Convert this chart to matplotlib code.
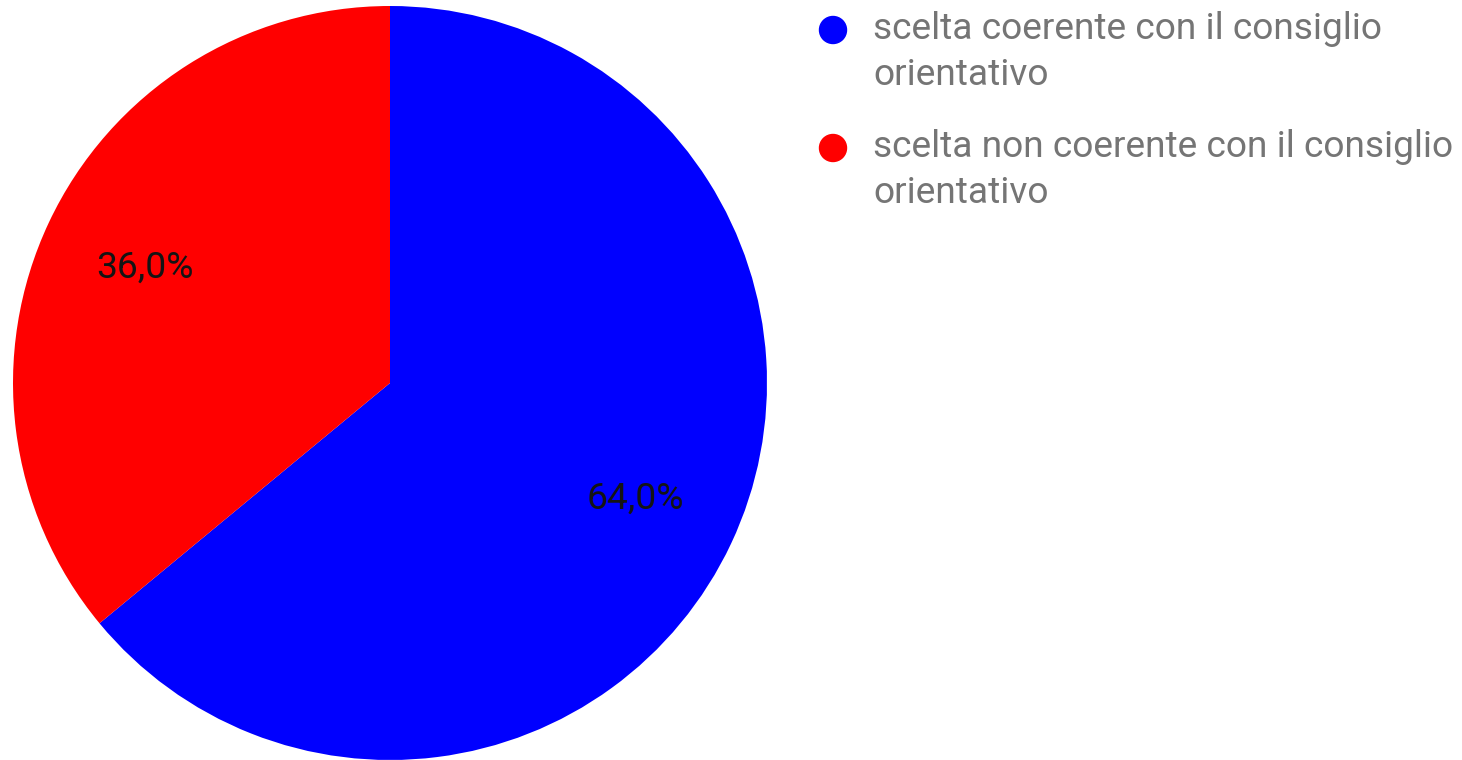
import matplotlib
matplotlib.use('Agg')
import matplotlib.pyplot as plt
from matplotlib.patches import Ellipse
import numpy as np

# data
labels = [['scelta coerente con il consiglio', 'orientativo'],
          ['scelta non coerente con il consiglio', 'orientativo']]
values = [64.0, 36.0]
colors = ['#0000ff', '#ff0000']
pct_text = ['64,0%', '36,0%']

plt.rcParams['font.family'] = ['Roboto', 'DejaVu Sans']

W, H = 1462, 760
fig = plt.figure(figsize=(W / 100, H / 100), dpi=100)

# pie centre ~ (390, 383) px, radius ~377 px
cx, cy, r = 390, 383, 377
ax = fig.add_axes([(cx - r) / W, (H - cy - r) / H, 2 * r / W, 2 * r / H])
ax.pie(values, colors=colors, startangle=90, counterclock=False,
       radius=1.0, wedgeprops=dict(linewidth=0))
ax.set_xlim(-1, 1)
ax.set_ylim(-1, 1)
ax.set_aspect('equal')
ax.axis('off')

# percentage labels along each wedge's mid angle
start = 90.0
for v, txt in zip(values, pct_text):
    mid = start - v * 3.6 / 2
    start -= v * 3.6
    rr = 0.718
    ax.text(rr * np.cos(np.radians(mid)), rr * np.sin(np.radians(mid)), txt,
            ha='center', va='center', fontsize=26.8, color='#141414')

# legend drawn by hand
leg_y = [30, 148]
for y, c, lab in zip(leg_y, colors, labels):
    fig.patches.append(Ellipse((833 / W, 1 - y / H), 27 / W, 27 / H,
                               transform=fig.transFigure, color=c,
                               figure=fig))
    for i, line in enumerate(lab):
        fig.text(873 / W, 1 - (y + 9 + i * 46) / H, line, ha='left',
                 va='baseline', fontsize=26.7, color='#757575')

fig.savefig('out.png', dpi=100)
